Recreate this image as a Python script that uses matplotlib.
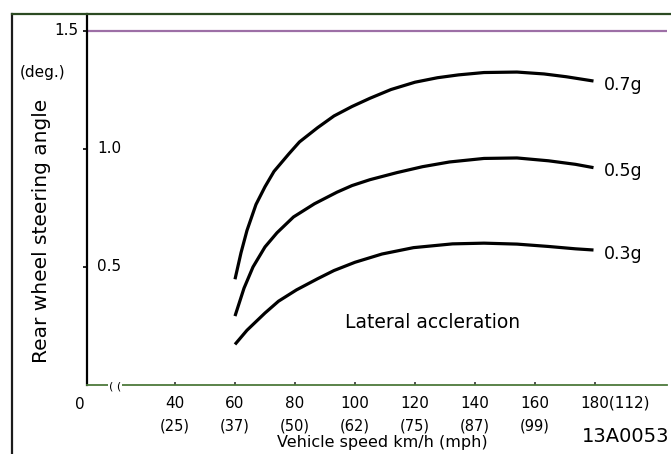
import numpy as np
import matplotlib
matplotlib.use("Agg")
import matplotlib.pyplot as plt
from matplotlib.lines import Line2D

plt.rcParams["font.family"] = ["DejaVu Sans"]

# curve data (speed in km/h, angle in deg.)
speed_07 = [60, 62, 64, 67, 70, 73, 78, 81.5, 87.5, 93, 99, 105, 112, 120, 127.5, 134.5, 143, 154, 163, 170.5, 179.5]
angle_07 = [0.448, 0.56, 0.655, 0.765, 0.84, 0.905, 0.98, 1.03, 1.09, 1.14, 1.18, 1.215,
            1.252, 1.283, 1.302, 1.314, 1.324, 1.326, 1.318, 1.306, 1.288]
speed_05 = [60, 63, 66, 70, 74, 79.5, 86.5, 94, 99, 105, 114, 122.5, 131.5, 143, 154, 164.5, 173.5, 179.5]
angle_05 = [0.292, 0.41, 0.50, 0.585, 0.645, 0.712, 0.768, 0.817, 0.845, 0.87, 0.9, 0.925,
            0.945, 0.96, 0.962, 0.95, 0.935, 0.921]
speed_03 = [60, 64, 70, 74.5, 80.5, 87.5, 93, 100, 109, 119.5, 132.5, 143, 154, 164.5, 173.5, 179.5]
angle_03 = [0.172, 0.232, 0.305, 0.355, 0.403, 0.45, 0.485, 0.52, 0.555, 0.582, 0.598, 0.601,
            0.597, 0.587, 0.577, 0.572]
curve_labels = ["0.7g", "0.5g", "0.3g"]

x_ticks = [40, 60, 80, 100, 120, 140, 160]
x_kmh = ["40", "60", "80", "100", "120", "140", "160"]
x_mph = ["(25)", "(37)", "(50)", "(62)", "(75)", "(87)", "(99)"]
last_tick = 180
last_label = "180(112)"
y_ticks = [0.5, 1.0, 1.5]
y_labels = ["0.5", "1.0", "1.5"]

fig = plt.figure(figsize=(6.71, 4.54), dpi=100)
ax = fig.add_axes([87 / 671, 69 / 454, 580 / 671, 371 / 454])
ax.set_xlim(10.67, 204)
ax.set_ylim(0, 1.572)

curves = [(speed_07, angle_07), (speed_05, angle_05), (speed_03, angle_03)]
for (s, a), lab in zip(curves, curve_labels):
    ax.plot(s, a, color="black", lw=2.3, solid_capstyle="butt", solid_joinstyle="round")
    ax.text(s[-1] + 3.5, a[-1] - 0.015, lab, fontsize=12.5, va="center", ha="left")

# 1.5 reference line
ax.axhline(1.5, color="#9d6fa6", lw=1.6)

ax.spines["top"].set_visible(False)
ax.spines["right"].set_visible(False)
ax.spines["left"].set_linewidth(1.6)
ax.spines["bottom"].set_color("#4d7a3c")
ax.spines["bottom"].set_linewidth(1.3)

ax.set_xticks(x_ticks + [last_tick])
ax.set_xticklabels([])
ax.tick_params(axis="x", direction="in", length=2, width=1.2, color="#333333")
ax.set_yticks(y_ticks)
ax.set_yticklabels([])
ax.tick_params(axis="y", direction="out", length=3, width=1.2)

# y labels: 1.5 left of the spine, the others inside
for v, lab in zip(y_ticks, y_labels):
    if v == 1.5:
        ax.text(-0.015, v, lab, transform=ax.get_yaxis_transform(),
                ha="right", va="center", fontsize=11)
    else:
        ax.text(0.018, v, lab, transform=ax.get_yaxis_transform(),
                ha="left", va="center", fontsize=11)

# x labels
for t, a, b in zip(x_ticks, x_kmh, x_mph):
    ax.text(t, -0.045, a, ha="center", va="top", fontsize=11)
    ax.text(t, -0.14, b, ha="center", va="top", fontsize=10.5)
ax.text(last_tick - 5, -0.045, last_label, ha="left", va="top", fontsize=11)
ax.text(8.3, -0.05, "0", ha="center", va="top", fontsize=11)
ax.text(20, -0.005, "( (", ha="center", va="center", fontsize=8,
        bbox=dict(facecolor="white", edgecolor="none", pad=0.3))

ax.text(125.7, 0.263, "Lateral accleration", ha="center", va="center", fontsize=13.5)

fig.text(382 / 671, 1 - 443 / 454, "Vehicle speed km/h (mph)", ha="center",
         va="center", fontsize=11.5)
fig.text(669 / 671, 1 - 436 / 454, "13A0053", ha="right", va="center", fontsize=14)
fig.text(43 / 671, 1 - 72 / 454, "(deg.)", ha="center", va="center", fontsize=11)
fig.text(42 / 671, 1 - 231 / 454, "Rear wheel steering angle", ha="center",
         va="center", rotation=90, fontsize=14.5)

# outer frame
fig.add_artist(Line2D([12 / 671, 12 / 671], [0, 1 - 14 / 454], color="#1c1c1c", lw=1.6))
fig.add_artist(Line2D([12 / 671, 1], [1 - 14 / 454, 1 - 14 / 454], color="#2c4a22", lw=1.6))

fig.savefig("out.png", dpi=100)
